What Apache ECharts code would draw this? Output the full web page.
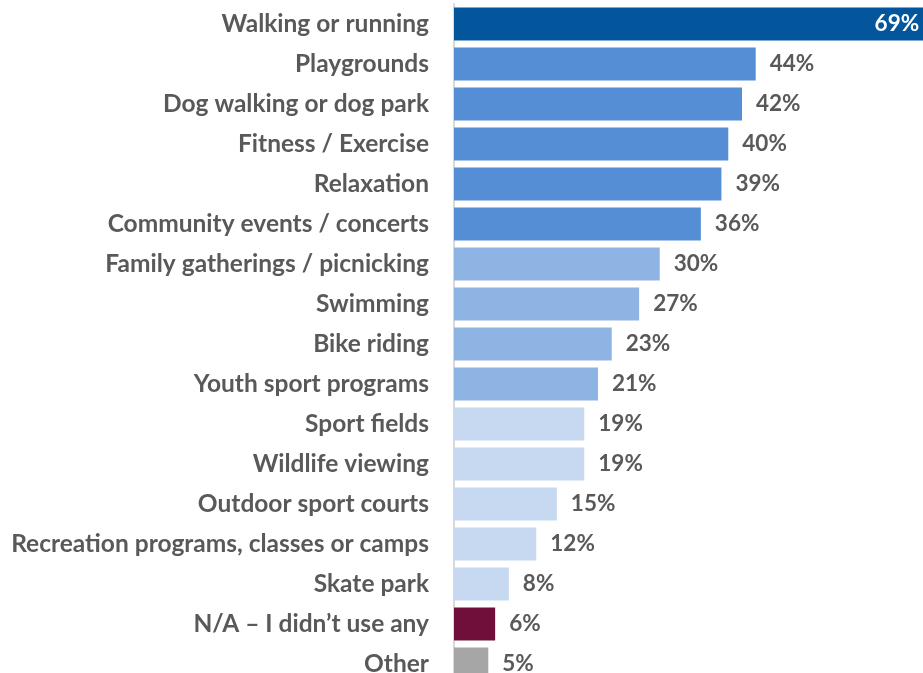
<!DOCTYPE html>
<html><head><meta charset="utf-8">
<script src="https://cdn.jsdelivr.net/npm/echarts@6/dist/echarts.min.js"></script>
<style>html,body{margin:0;padding:0;background:#fff}#c{width:923px;height:673px}</style>
</head><body><div id="c"></div>
<script>
var categories = ["Walking or running","Playgrounds","Dog walking or dog park","Fitness / Exercise","Relaxation","Community events / concerts","Family gatherings / picnicking","Swimming","Bike riding","Youth sport programs","Sport fields","Wildlife viewing","Outdoor sport courts","Recreation programs, classes or camps","Skate park","N/A \u2013 I didn\u2019t use any","Other"];
var values = [69,44,42,40,39,36,30,27,23,21,19,19,15,12,8,6,5];
var colors = ["#03569B","#558ED5","#558ED5","#558ED5","#558ED5","#558ED5","#8EB4E3","#8EB4E3","#8EB4E3","#8EB4E3","#C6D9F1","#C6D9F1","#C6D9F1","#C6D9F1","#C6D9F1","#70103A","#A6A6A6"];
var chart = echarts.init(document.getElementById('c'));
var data = values.map(function(v,i){
  var d = {value:v, itemStyle:{color:colors[i]}};
  if(i===0){ d.label = {position:'insideRight', color:'#fff', distance:8}; }
  return d;
});
chart.setOption({
  animation:false,
  grid:{left:454,width:480,top:4,height:680,containLabel:false,outerBoundsMode:'none'},
  xAxis:{type:'value',min:0,max:70,show:false},
  yAxis:{type:'category',data:categories,inverse:true,
    axisLine:{show:true,lineStyle:{color:'#D9D9D9',width:2}},
    axisTick:{show:false},
    axisLabel:{color:'#595959',fontFamily:'Lato',fontWeight:'bold',fontSize:24.5,margin:25}},
  series:[{type:'bar',data:data,barCategoryGap:'18%',
    label:{show:true,position:'right',distance:14,formatter:'{c}%',color:'#595959',fontFamily:'Lato',fontWeight:'bold',fontSize:22.5}}]
});
</script></body></html>
